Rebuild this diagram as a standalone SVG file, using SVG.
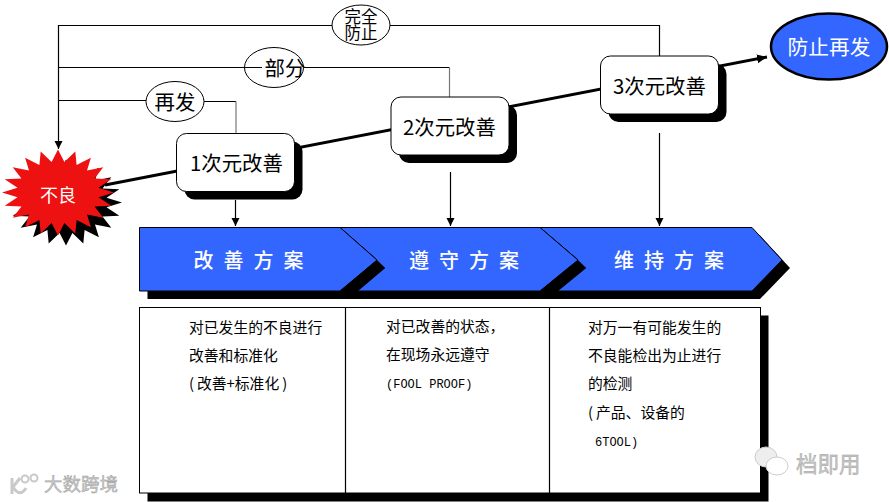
<svg xmlns="http://www.w3.org/2000/svg" xmlns:xlink="http://www.w3.org/1999/xlink" width="889" height="502" viewBox="0 0 889 502">
<style>
text{font-family:"Noto Sans CJK SC","Noto Sans",sans-serif;fill:#000}
.thin{fill:none;stroke:#000;stroke-width:1.2}
.gray{fill:none;stroke:#777;stroke-width:1.2}
.thick{fill:none;stroke:#000;stroke-width:3}
.box{fill:#fff;stroke:#000;stroke-width:1}
.shadow{fill:#000}
.blue{fill:#3366ff;stroke:#000;stroke-width:1}
.lab{font-size:20.4px}
.ell{fill:none;stroke:#000;stroke-width:1}
.head{font-size:20px;fill:#fff;font-weight:500;word-spacing:5.5px;text-anchor:middle}
.body{font-size:14.8px}
.mono{font-family:"Liberation Mono",monospace;font-size:12px}
.wm{fill:#c9c9c9;stroke:#999;stroke-width:.4}
</style>
<defs>
<marker id="a" markerUnits="userSpaceOnUse" markerWidth="10" markerHeight="10" refX="8" refY="4" orient="auto"><path d="M0 0L8 4L0 8Z" fill="#000"/></marker>
<marker id="b" markerUnits="userSpaceOnUse" markerWidth="12" markerHeight="10" refX="10" refY="4.5" orient="auto"><path d="M0 0L10 4.5L0 9Z" fill="#000"/></marker>
<polygon id="burst" points="58,149.5 64.4,161.9 75.3,151.6 76.6,164.9 90.9,157.7 87,170.6 103.3,167.2 94.5,178.4 111.3,179.2 98.5,187.7 114,192.5 98.5,197.3 111.3,205.8 94.5,206.6 103.3,217.8 87,214.4 90.9,227.3 76.6,220.1 75.3,233.4 64.4,223.1 58,235.5 51.6,223.1 40.7,233.4 39.4,220.1 25.1,227.3 29,214.4 12.7,217.8 21.5,206.6 4.7,205.8 17.5,197.3 2,192.5 17.5,187.7 4.7,179.2 21.5,178.4 12.7,167.2 29,170.6 25.1,157.7 39.4,164.9 40.7,151.6 51.6,161.9"/>
</defs>

<g id="connectors">
<path class="thick" d="M105 185L767 57" marker-end="url(#b)"/>
<path class="thin" d="M659.5 56V25.5H390M332 25.5H58.5V149" marker-end="url(#a)"/>
<path class="thin" d="M58.5 67.5H262M304 67.5H449.5"/>
<path class="gray" d="M449.5 67.5V97"/>
<path class="thin" d="M58.5 100.5H146M204 101.5H236"/>
<path class="gray" d="M236 101.5V133"/>
<path class="thin" d="M235.5 200V226" marker-end="url(#a)"/>
<path class="thin" d="M450.5 172V226" marker-end="url(#a)"/>
<path class="thin" d="M659.5 133V226" marker-end="url(#a)"/>
</g>

<g id="node-buliang">
<use xlink:href="#burst" href="#burst" transform="translate(8,10)" fill="#000"/>
<use xlink:href="#burst" href="#burst" fill="#ee1111"/>
<text x="58" y="202" font-size="18" text-anchor="middle" style="fill:#fff">不良</text>
</g>

<g id="node-zaifa">
<ellipse class="ell" cx="175" cy="101.5" rx="29" ry="20"/>
<text class="lab" x="175" y="110" text-anchor="middle">再发</text>
</g>
<g id="node-bufen">
<ellipse class="ell" cx="274" cy="67.5" rx="29.5" ry="20"/>
<text class="lab" x="285" y="76" text-anchor="middle">部分</text>
</g>
<g id="node-wanquan">
<ellipse class="ell" cx="361" cy="25" rx="29" ry="20"/>
<text font-size="16.5" text-anchor="middle"><tspan x="361" y="23">完全</tspan><tspan x="361" y="39">防止</tspan></text>
</g>

<g id="node-step1">
<rect class="shadow" x="184.5" y="141.5" width="118" height="58" rx="10"/>
<rect class="box" x="176.5" y="133.5" width="118" height="58" rx="10"/>
<text class="lab" x="190" y="171">1次元改善</text>
</g>
<g id="node-step2">
<rect class="shadow" x="399" y="105" width="118" height="58" rx="10"/>
<rect class="box" x="391" y="97" width="118" height="58" rx="10"/>
<text class="lab" x="403" y="135">2次元改善</text>
</g>
<g id="node-step3">
<rect class="shadow" x="608.5" y="64" width="118" height="58" rx="10"/>
<rect class="box" x="600.5" y="56" width="118" height="58" rx="10"/>
<text class="lab" x="613" y="94">3次元改善</text>
</g>

<g id="node-goal">
<ellipse cx="829" cy="46.5" rx="58" ry="33" fill="#3366ff" stroke="#000" stroke-width="2.5"/>
<text x="829" y="55" font-size="20.7" text-anchor="middle" style="fill:#fff">防止再发</text>
</g>

<g id="node-plan3">
<polygon class="shadow" points="548,235.5 760,235.5 790,268 760,299 548,299"/>
<polygon class="blue" points="540,227.5 752,227.5 782,260 752,291 540,291 578,260"/>
<text class="head" x="669" y="268">维 持 方 案</text>
</g>
<g id="node-plan2">
<polygon class="shadow" points="348,235.5 548,235.5 586,268 548,299 348,299"/>
<polygon class="blue" points="340,227.5 540,227.5 578,260 540,291 340,291 377,260"/>
<text class="head" x="464" y="268">遵 守 方 案</text>
</g>
<g id="node-plan1">
<polygon class="shadow" points="147.5,235.5 348,235.5 385,268 348,299 147.5,299"/>
<polygon class="blue" points="139.5,227.5 340,227.5 377,260 340,291 139.5,291"/>
<text class="head" x="248.5" y="268">改 善 方 案</text>
</g>
<path d="M540 291L578 260L586 268L558 291Z" fill="#000"/>
<path d="M340 291L377 260L385 268L358 291Z" fill="#000"/>

<g id="node-table">
<rect class="shadow" x="147.5" y="315.5" width="621" height="186"/>
<rect class="box" x="139.5" y="307.5" width="621" height="185.5"/>
<path class="thin" d="M345.5 307.5V493M549.5 307.5V493"/>
<g class="body">
<text x="189" y="333">对已发生的不良进行</text>
<text x="189" y="361">改善和标准化</text>
<text x="189" y="389">(<tspan dx="3">改善+标准化</tspan><tspan dx="3">)</tspan></text>
<text x="386" y="332">对已改善的状态，</text>
<text x="386" y="360">在现场永远遵守</text>
<text class="mono" x="386" y="388">(FOOL PROOF)</text>
<text x="588" y="333">对万一有可能发生的</text>
<text x="588" y="361">不良能检出为止进行</text>
<text x="588" y="389">的检测</text>
<text x="588" y="418">(<tspan dx="3">产品、设备的</tspan></text>
<text class="mono" x="595" y="446">6TOOL)</text>
</g>
</g>

<g id="watermark-left">
<path d="M12 478V494M13 487L20 478M13 487Q20 498 26 488" fill="none" stroke="#c9c9c9" stroke-width="3"/>
<circle cx="25" cy="479" r="3.5" fill="none" stroke="#c9c9c9" stroke-width="2"/>
<circle cx="34" cy="478" r="3.5" fill="none" stroke="#c9c9c9" stroke-width="2"/>
<text class="wm" x="44" y="491" font-size="18.5">大数跨境</text>
</g>
<g id="watermark-right">
<ellipse cx="766" cy="457" rx="11" ry="10" fill="#eee" stroke="#ccc"/>
<ellipse cx="777" cy="466" rx="11" ry="9" fill="#fff" stroke="#ccc"/>
<text class="wm" x="796" y="472" font-size="21.5">档即用</text>
</g>
</svg>
